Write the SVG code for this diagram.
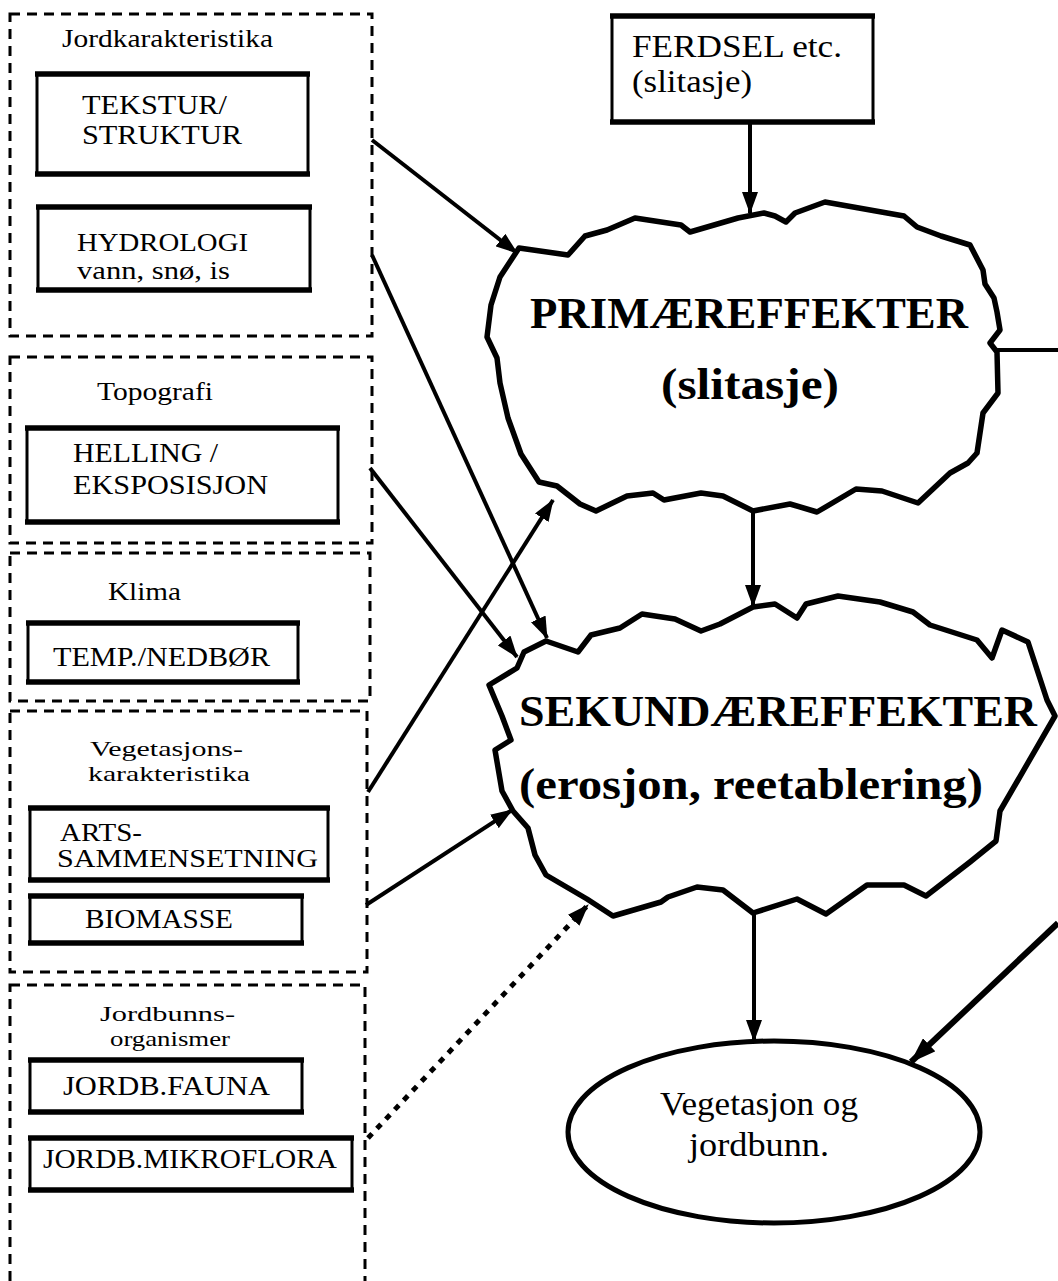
<svg xmlns="http://www.w3.org/2000/svg" width="1058" height="1281" viewBox="0 0 1058 1281">
  <style>
    .grp { fill: none; stroke: #000; stroke-width: 3; stroke-dasharray: 10 7; }
    .box { fill: #fff; stroke: #000; stroke-width: 3; }
    .rule { stroke: #000; stroke-width: 5.5; }
    .cloud { fill: #fff; stroke: #000; stroke-width: 5.5; stroke-linejoin: round; }
    .oval { fill: #fff; stroke: #000; stroke-width: 5; }
    .t { font-family: "Liberation Serif", "Times New Roman", serif; fill: #000; }
    .lbl { font-size: 25px; }
    .lbl2 { font-size: 22px; }
    .bx { font-size: 28px; }
    .bx2 { font-size: 25px; }
    .big { font-size: 44px; font-weight: bold; }
    .conn { fill: none; stroke: #000; stroke-width: 4; }
    .heavy { fill: none; stroke: #000; stroke-width: 6; }
    .dots { fill: none; stroke: #000; stroke-width: 5; stroke-dasharray: 6 7; }
  </style>
  <defs>
    <marker id="arrow" markerUnits="userSpaceOnUse" markerWidth="22" markerHeight="16" viewBox="0 0 22 16" refX="21" refY="8" orient="auto">
      <path d="M0,0 L22,8 L0,16 Z" fill="#000"/>
    </marker>
    <marker id="arrowBig" markerUnits="userSpaceOnUse" markerWidth="26" markerHeight="18" viewBox="0 0 26 18" refX="25" refY="9" orient="auto">
      <path d="M0,0 L26,9 L0,18 Z" fill="#000"/>
    </marker>
  </defs>

  <rect width="1058" height="1281" fill="#fff"/>

  <!-- factor groups (dashed frames) on the left -->
  <g id="jordkarakteristika">
    <rect class="grp" x="10" y="14" width="362" height="322"/>
    <text class="t lbl" x="62" y="47" textLength="211" lengthAdjust="spacingAndGlyphs">Jordkarakteristika</text>
    <g id="tekstur">
      <rect class="box" x="37" y="74" width="271" height="100"/>
      <line class="rule" x1="35" y1="74" x2="310" y2="74"/>
      <line class="rule" x1="35" y1="174" x2="310" y2="174"/>
      <text class="t bx" x="82" y="114" textLength="145" lengthAdjust="spacingAndGlyphs">TEKSTUR/</text>
      <text class="t bx" x="82" y="144" textLength="160" lengthAdjust="spacingAndGlyphs">STRUKTUR</text>
    </g>
    <g id="hydrologi">
      <rect class="box" x="38" y="207" width="272" height="83"/>
      <line class="rule" x1="36" y1="207" x2="312" y2="207"/>
      <line class="rule" x1="36" y1="290" x2="312" y2="290"/>
      <text class="t bx2" x="77" y="251" textLength="171" lengthAdjust="spacingAndGlyphs">HYDROLOGI</text>
      <text class="t bx2" x="77" y="279" textLength="153" lengthAdjust="spacingAndGlyphs">vann, snø, is</text>
    </g>
  </g>

  <g id="topografi">
    <rect class="grp" x="10" y="357" width="362" height="186"/>
    <text class="t lbl" x="97" y="400" textLength="116" lengthAdjust="spacingAndGlyphs">Topografi</text>
    <g id="helling">
      <rect class="box" x="27" y="428" width="311" height="94"/>
      <line class="rule" x1="25" y1="428" x2="340" y2="428"/>
      <line class="rule" x1="25" y1="522" x2="340" y2="522"/>
      <text class="t bx" x="73" y="462" textLength="145" lengthAdjust="spacingAndGlyphs">HELLING /</text>
      <text class="t bx" x="73" y="494" textLength="195" lengthAdjust="spacingAndGlyphs">EKSPOSISJON</text>
    </g>
  </g>

  <g id="klima">
    <rect class="grp" x="10" y="553" width="360" height="148"/>
    <text class="t lbl" x="108" y="600" textLength="73" lengthAdjust="spacingAndGlyphs">Klima</text>
    <g id="temp">
      <rect class="box" x="28" y="623" width="270" height="59"/>
      <line class="rule" x1="26" y1="623" x2="300" y2="623"/>
      <line class="rule" x1="26" y1="682" x2="300" y2="682"/>
      <text class="t bx" x="53" y="666" textLength="217" lengthAdjust="spacingAndGlyphs">TEMP./NEDBØR</text>
    </g>
  </g>

  <g id="vegetasjon">
    <rect class="grp" x="10" y="711" width="357" height="261"/>
    <text class="t lbl2" x="90" y="756" textLength="153" lengthAdjust="spacingAndGlyphs">Vegetasjons-</text>
    <text class="t lbl2" x="88" y="781" textLength="162" lengthAdjust="spacingAndGlyphs">karakteristika</text>
    <g id="arts">
      <rect class="box" x="30" y="808" width="298" height="72"/>
      <line class="rule" x1="28" y1="808" x2="330" y2="808"/>
      <line class="rule" x1="28" y1="880" x2="330" y2="880"/>
      <text class="t bx2" x="60" y="841" textLength="82" lengthAdjust="spacingAndGlyphs">ARTS-</text>
      <text class="t bx2" x="57" y="867" textLength="261" lengthAdjust="spacingAndGlyphs">SAMMENSETNING</text>
    </g>
    <g id="biomasse">
      <rect class="box" x="30" y="896" width="272" height="47"/>
      <line class="rule" x1="28" y1="896" x2="304" y2="896"/>
      <line class="rule" x1="28" y1="943" x2="304" y2="943"/>
      <text class="t bx" x="85" y="928" textLength="148" lengthAdjust="spacingAndGlyphs">BIOMASSE</text>
    </g>
  </g>

  <g id="jordbunnsorganismer">
    <rect class="grp" x="10" y="985" width="355" height="320"/>
    <text class="t lbl2" x="100" y="1021" textLength="135" lengthAdjust="spacingAndGlyphs">Jordbunns-</text>
    <text class="t lbl2" x="110" y="1046" textLength="120" lengthAdjust="spacingAndGlyphs">organismer</text>
    <g id="fauna">
      <rect class="box" x="30" y="1060" width="272" height="52"/>
      <line class="rule" x1="28" y1="1060" x2="304" y2="1060"/>
      <line class="rule" x1="28" y1="1112" x2="304" y2="1112"/>
      <text class="t bx" x="63" y="1095" textLength="207" lengthAdjust="spacingAndGlyphs">JORDB.FAUNA</text>
    </g>
    <g id="mikroflora">
      <rect class="box" x="30" y="1138" width="322" height="52"/>
      <line class="rule" x1="28" y1="1138" x2="354" y2="1138"/>
      <line class="rule" x1="28" y1="1190" x2="354" y2="1190"/>
      <text class="t bx" x="43" y="1168" textLength="294" lengthAdjust="spacingAndGlyphs">JORDB.MIKROFLORA</text>
    </g>
  </g>

  <!-- traffic source -->
  <g id="ferdsel">
    <rect class="box" x="612" y="16" width="261" height="106"/>
    <line class="rule" x1="610" y1="16" x2="875" y2="16"/>
    <line class="rule" x1="610" y1="122" x2="875" y2="122"/>
    <text class="t" font-size="32" x="632" y="57" textLength="210" lengthAdjust="spacingAndGlyphs">FERDSEL etc.</text>
    <text class="t" font-size="32" x="632" y="92" textLength="120" lengthAdjust="spacingAndGlyphs">(slitasje)</text>
  </g>

  <!-- primary effects cloud -->
  <g id="primaereffekter">
    <polygon class="cloud" points="519,248 568,255 585,236 607,230 635,218 681,225 690,232 738,218 764,213 775,216 786,222 795,213 825,202 904,216 917,227 941,236 970,245 983,270 985,284 994,298 997,312 1000,330 990,343 997,352 998,393 983,413 977,453 968,463 950,473 918,503 882,491 856,489 817,512 790,504 753,511 723,496 701,493 664,500 653,493 627,496 596,511 580,504 557,486 539,482 521,454 508,418 500,383 497,358 487,337 491,305 500,277"/>
    <text class="t big" x="530" y="328" textLength="438" lengthAdjust="spacingAndGlyphs">PRIMÆREFFEKTER</text>
    <text class="t big" x="661" y="399" textLength="178" lengthAdjust="spacingAndGlyphs">(slitasje)</text>
  </g>

  <!-- secondary effects cloud -->
  <g id="sekundaereffekter">
    <polygon class="cloud" points="524,652 546,641 578,652 591,635 620,628 642,614 675,619 701,631 720,624 753,607 775,604 797,618 806,604 838,596 880,602 913,612 930,625 977,640 992,658 1002,630 1028,642 1047,700 1055,716 1018,780 1000,811 996,841 970,862 926,896 904,885 867,885 826,914 797,899 753,913 723,890 697,887 668,897 661,902 613,916 587,899 546,875 535,855 528,828 513,811 502,791 495,750 511,740 502,716 489,685 517,668"/>
    <text class="t big" font-size="46" x="519" y="726" textLength="518" lengthAdjust="spacingAndGlyphs">SEKUNDÆREFFEKTER</text>
    <text class="t big" font-size="46" x="519" y="799" textLength="464" lengthAdjust="spacingAndGlyphs">(erosjon, reetablering)</text>
  </g>

  <!-- outcome -->
  <g id="vegetasjon-jordbunn">
    <ellipse class="oval" cx="774" cy="1132" rx="206" ry="91"/>
    <text class="t" font-size="34" x="660" y="1115" textLength="198" lengthAdjust="spacingAndGlyphs">Vegetasjon og</text>
    <text class="t" font-size="34" x="689" y="1156" textLength="140" lengthAdjust="spacingAndGlyphs">jordbunn.</text>
  </g>

  <!-- connectors -->
  <g id="connectors">
    <line class="conn" x1="372" y1="140" x2="517" y2="253" marker-end="url(#arrow)"/>
    <line class="conn" x1="372" y1="255" x2="547" y2="638" marker-end="url(#arrow)"/>
    <line class="conn" x1="370" y1="468" x2="517" y2="657" marker-end="url(#arrow)"/>
    <line class="conn" x1="368" y1="792" x2="553" y2="500" marker-end="url(#arrow)"/>
    <line class="conn" x1="366" y1="905" x2="512" y2="810" marker-end="url(#arrow)"/>
    <line class="dots" x1="368" y1="1138" x2="588" y2="905" marker-end="url(#arrow)"/>
    <line class="conn" x1="750" y1="124" x2="750" y2="213" marker-end="url(#arrow)"/>
    <line class="conn" x1="753" y1="511" x2="753" y2="606" marker-end="url(#arrow)"/>
    <line class="conn" x1="754" y1="913" x2="754" y2="1041" marker-end="url(#arrow)"/>
    <line class="conn" stroke-width="3.5" x1="995" y1="350" x2="1058" y2="350"/>
    <line class="heavy" x1="1058" y1="923" x2="911" y2="1062" marker-end="url(#arrowBig)"/>
  </g>
</svg>
